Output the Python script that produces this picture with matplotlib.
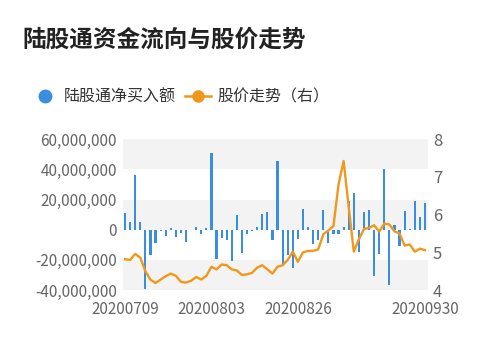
import numpy as np
import matplotlib
matplotlib.use("Agg")
import matplotlib.pyplot as plt
from matplotlib.lines import Line2D
from matplotlib.ticker import FuncFormatter

plt.rcParams['font.family'] = ['Noto Sans CJK SC', 'DejaVu Sans']

# trading days 2020-07-09 .. 2020-09-30
dates = ['20200709', '20200710', '20200713', '20200714', '20200715', '20200716', '20200717',
         '20200720', '20200721', '20200722', '20200723', '20200724', '20200727', '20200728',
         '20200729', '20200730', '20200731',
         '20200803', '20200804', '20200805', '20200806', '20200807', '20200810', '20200811',
         '20200812', '20200813', '20200814', '20200817', '20200818', '20200819', '20200820',
         '20200821', '20200824', '20200825', '20200826', '20200827', '20200828', '20200831',
         '20200901', '20200902', '20200903', '20200904', '20200907', '20200908', '20200909',
         '20200910', '20200911', '20200914', '20200915', '20200916', '20200917', '20200918',
         '20200921', '20200922', '20200923', '20200924', '20200925', '20200928', '20200929',
         '20200930']

# 陆股通净买入额, in millions
net_buy = [11, 5, 36, 5, -39, -17, -9, -1, -4, 1,
           -5, -2, -8, -0.5, 2, -2.5, 1, 51, -19.5, -5.5,
           -7, -21, 10, -15.5, -2.5, -1, 1.5, 10.5, 12, -6.5,
           45.5, -24, -16.5, -25, -6, 13.8, 1.8, -9.5, -7, 13,
           -8.8, -3, -2.5, 1.5, 19, 24.5, -14.5, 12, 13, -30.7,
           -15.8, 40.4, -36.8, 3, -11, 12.5, 0.5, 19.3, 8.5, 18]

# 股价走势
price = [4.82, 4.80, 4.96, 4.86, 4.50, 4.28, 4.19, 4.28, 4.37, 4.44,
         4.38, 4.22, 4.20, 4.25, 4.35, 4.28, 4.38, 4.62, 4.55, 4.68,
         4.66, 4.55, 4.52, 4.40, 4.42, 4.46, 4.60, 4.66, 4.55, 4.44,
         4.62, 4.66, 4.80, 5.02, 4.75, 5.00, 5.04, 5.04, 5.08, 5.48,
         5.58, 5.70, 6.80, 7.42, 6.20, 5.02, 5.35, 5.62, 5.65, 5.72,
         5.55, 5.76, 5.74, 5.56, 5.50, 5.18, 5.21, 5.02, 5.10, 5.06]

label_idx = [0, 17, 34, 59]

blue = '#3a8ee0'
orange = '#f0981c'
gray = '#666666'

x = np.arange(len(dates))
vals = np.array(net_buy) * 1e6

fig = plt.figure(figsize=(5, 3.53), dpi=100)
ax = fig.add_axes([0.245, 0.178, 0.61, 0.428])

for lo, hi in [(40e6, 60e6), (0, 20e6), (-40e6, -20e6)]:
    ax.axhspan(lo, hi, color='#f3f3f3', zorder=0, lw=0)

ax.bar(x, vals, width=0.42, color=blue, zorder=2)
ax.set_ylim(-40e6, 60e6)
ax.set_yticks(np.arange(-40e6, 60e6 + 1, 20e6))
ax.yaxis.set_major_formatter(FuncFormatter(lambda v, p: f'{int(v):,}'))
ax.set_xlim(-0.5, len(dates) - 0.5)
ax.set_xticks(label_idx)
ax.set_xticklabels([dates[i] for i in label_idx])

ax2 = ax.twinx()
ax2.plot(x, price, color=orange, lw=1.7, zorder=3)
ax2.set_ylim(4, 8)
ax2.set_yticks([4, 5, 6, 7, 8])

for a in (ax, ax2):
    for s in a.spines.values():
        s.set_visible(False)
    a.tick_params(length=0, labelsize=11, labelcolor=gray)
ax.tick_params(axis='y', pad=4)
ax.tick_params(axis='x', pad=8)
ax2.tick_params(axis='y', pad=4, labelsize=12)

fig.text(0.044, 1 - 40 / 353, '陆股通资金流向与股价走势', fontsize=17,
         fontweight='bold', color='#222222', va='center', ha='left')

handles = [Line2D([], [], marker='o', color=blue, ls='none', markersize=9),
           Line2D([], [], marker='o', color=orange, lw=1.8, markersize=8)]
fig.legend(handles, ['陆股通净买入额', '股价走势（右）'], loc='center left',
           bbox_to_anchor=(0.035, 1 - 97 / 353), ncol=2, frameon=False,
           fontsize=11.5, handlelength=1.6, handletextpad=0.4,
           columnspacing=0.6, labelcolor='#333333')

fig.savefig('out.png', dpi=100)
